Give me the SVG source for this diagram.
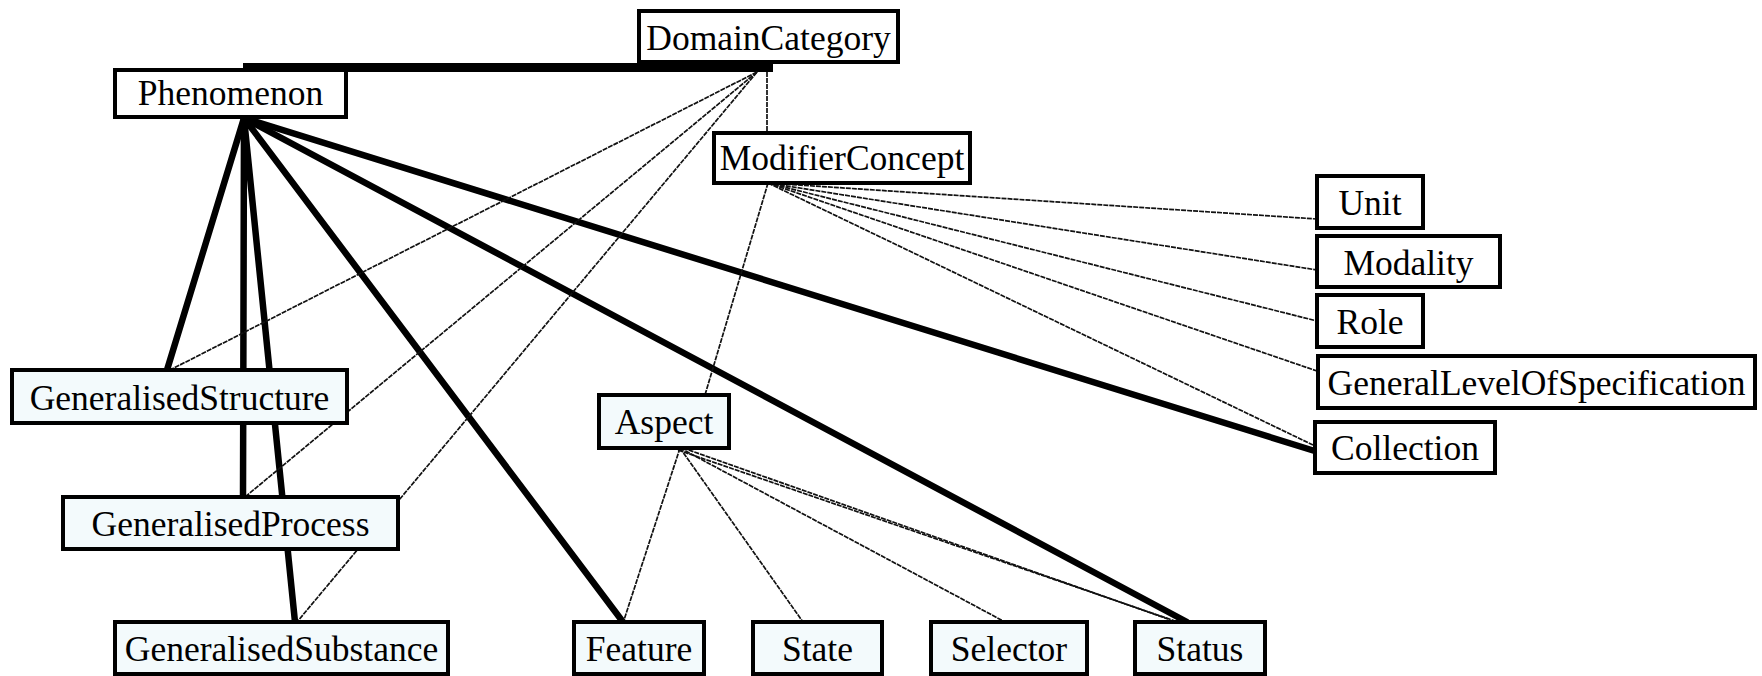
<svg xmlns="http://www.w3.org/2000/svg" width="1762" height="676" viewBox="0 0 1762 676">
  <style>
    .box { stroke: #000; stroke-width: 4; }
    .plain { fill: #ffffff; }
    .tint { fill: #f3fafc; }
    .label { font-family: "Liberation Serif", "Times New Roman", "DejaVu Serif", serif; font-size: 35.5px; fill: #000; text-anchor: middle; }
    .strong { stroke: #000; stroke-width: 6.5; stroke-linecap: round; fill: none; }
    .weak { stroke: #111; stroke-width: 1.7; stroke-dasharray: 5 1; fill: none; }
  </style>

  <!-- connectors -->
  <g id="connectors">
    <!-- Phenomenon to DomainCategory -->
    <rect x="243" y="63" width="530" height="9" fill="#000"/>
    <!-- Phenomenon subtypes -->
    <line class="strong" x1="244" y1="118" x2="167" y2="370"/>
    <line class="strong" x1="244" y1="118" x2="243" y2="497"/>
    <line class="strong" x1="244" y1="118" x2="295" y2="622"/>
    <line class="strong" x1="244" y1="118" x2="623" y2="622"/>
    <line class="strong" x1="244" y1="118" x2="1187" y2="622"/>
    <line class="strong" x1="244" y1="118" x2="1318" y2="452"/>
    <!-- DomainCategory links -->
    <line class="weak" x1="757" y1="72" x2="170" y2="370"/>
    <line class="weak" x1="757" y1="72" x2="245" y2="497"/>
    <line class="weak" x1="757" y1="72" x2="297" y2="622"/>
    <line class="weak" x1="767" y1="72" x2="767" y2="133"/>
    <!-- ModifierConcept links -->
    <line class="weak" x1="768" y1="183" x2="705" y2="395"/>
    <line class="weak" x1="768" y1="183" x2="1317" y2="219"/>
    <line class="weak" x1="768" y1="183" x2="1317" y2="270"/>
    <line class="weak" x1="768" y1="183" x2="1317" y2="321"/>
    <line class="weak" x1="768" y1="183" x2="1317" y2="371"/>
    <line class="weak" x1="768" y1="183" x2="1313" y2="445"/>
    <!-- Aspect links -->
    <line class="weak" x1="680" y1="448" x2="624" y2="620"/>
    <line class="weak" x1="680" y1="448" x2="803" y2="622"/>
    <line class="weak" x1="680" y1="448" x2="1005" y2="622"/>
    <line class="weak" x1="683" y1="448" x2="1168" y2="619"/>
    <line class="weak" x1="678" y1="450" x2="1175" y2="621"/>
  </g>

  <!-- nodes -->
  <g id="DomainCategory">
    <rect class="box plain" x="639" y="11" width="259" height="51"/>
    <text class="label" x="768.5" y="50">DomainCategory</text>
  </g>
  <g id="Phenomenon">
    <rect class="box plain" x="115" y="70" width="231" height="47"/>
    <text class="label" x="230.5" y="105">Phenomenon</text>
  </g>
  <g id="ModifierConcept">
    <rect class="box plain" x="714" y="133" width="256" height="50"/>
    <text class="label" x="842" y="170">ModifierConcept</text>
  </g>
  <g id="Unit">
    <rect class="box plain" x="1317" y="176" width="106" height="52"/>
    <text class="label" x="1370" y="215">Unit</text>
  </g>
  <g id="Modality">
    <rect class="box plain" x="1317" y="236" width="183" height="51"/>
    <text class="label" x="1408.5" y="275">Modality</text>
  </g>
  <g id="Role">
    <rect class="box plain" x="1317" y="295" width="106" height="52"/>
    <text class="label" x="1370" y="334">Role</text>
  </g>
  <g id="GeneralLevelOfSpecification">
    <rect class="box plain" x="1318" y="356" width="437" height="52"/>
    <text class="label" x="1536.5" y="395">GeneralLevelOfSpecification</text>
  </g>
  <g id="Collection">
    <rect class="box plain" x="1315" y="422" width="180" height="51"/>
    <text class="label" x="1405" y="460">Collection</text>
  </g>
  <g id="GeneralisedStructure">
    <rect class="box tint" x="12" y="370" width="335" height="53"/>
    <text class="label" x="179.5" y="410">GeneralisedStructure</text>
  </g>
  <g id="GeneralisedProcess">
    <rect class="box tint" x="63" y="497" width="335" height="52"/>
    <text class="label" x="230.5" y="536">GeneralisedProcess</text>
  </g>
  <g id="GeneralisedSubstance">
    <rect class="box tint" x="115" y="622" width="333" height="52"/>
    <text class="label" x="281.5" y="661">GeneralisedSubstance</text>
  </g>
  <g id="Aspect">
    <rect class="box tint" x="599" y="395" width="130" height="53"/>
    <text class="label" x="664" y="434">Aspect</text>
  </g>
  <g id="Feature">
    <rect class="box tint" x="574" y="622" width="130" height="52"/>
    <text class="label" x="639" y="661">Feature</text>
  </g>
  <g id="State">
    <rect class="box tint" x="753" y="622" width="129" height="52"/>
    <text class="label" x="817.5" y="661">State</text>
  </g>
  <g id="Selector">
    <rect class="box tint" x="931" y="622" width="156" height="52"/>
    <text class="label" x="1009" y="661">Selector</text>
  </g>
  <g id="Status">
    <rect class="box tint" x="1135" y="622" width="130" height="52"/>
    <text class="label" x="1200" y="661">Status</text>
  </g>
</svg>
